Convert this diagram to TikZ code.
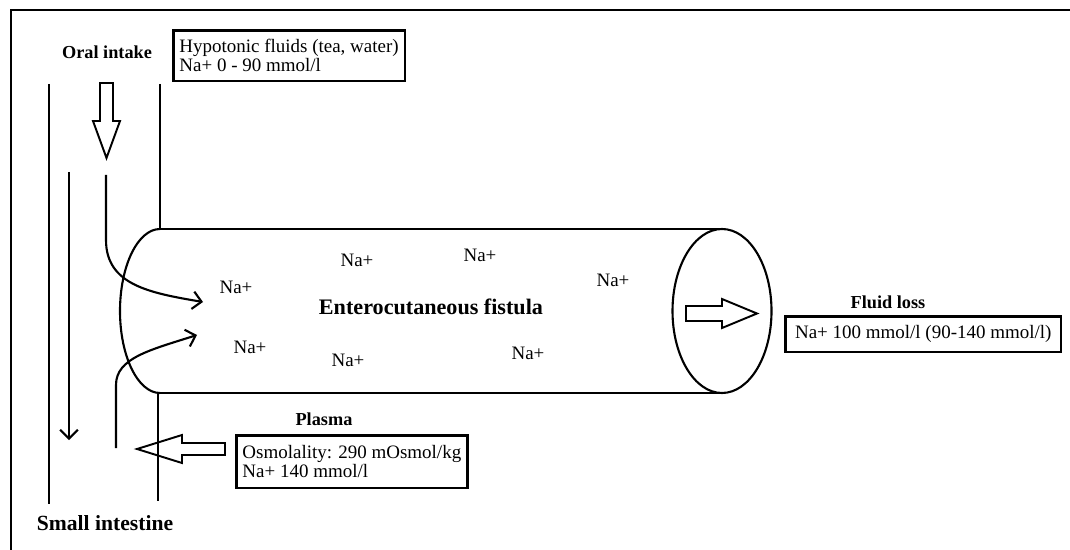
\documentclass[tikz,border=0pt]{standalone}
\usepackage{fontspec}
\setmainfont{Liberation Serif}
\usetikzlibrary{arrows.meta}

\begin{document}
\begin{tikzpicture}[x=0.02cm, y=-0.02cm, >={Straight Barb[length=5pt, width=10pt]},
    wall/.style={line width=1.2pt},
    hollow/.style={line width=1.1pt, line join=miter},
    infobox/.style={draw, line width=1.5pt, inner xsep=3.5pt, inner ysep=0pt, align=left,
        anchor=north west, font=\fontsize{10.8}{9.2}\selectfont},
    title/.style={font=\bfseries\fontsize{10.4}{12}\selectfont},
    ion/.style={font=\fontsize{10.8}{12}\selectfont}]
    \useasboundingbox (0,0) rectangle (1070,550);

    % ==================== KHUNG NGOÀI ====================
    \draw[wall] (11,550) -- (11,10) -- (1070,10);

    % ==================== RUỘT NON (BÊN TRÁI) ====================
    % Thành ruột
    \draw[wall] (49,84) -- (49,504);
    \draw[wall] (160,84) -- (160,229);
    \draw[wall] (158,393) -- (158,501);

    % Mũi tên rỗng: đường uống vào
    \draw[hollow] (100,83) -- (113,83) -- (113,121) -- (120,121) -- (106.5,158)
        -- (93,121) -- (100,121) -- cycle;

    % Dòng chảy xuống trong ruột
    \coordinate (flowtop) at (69,172);
    \coordinate (flowend) at (69,440);
    \draw[wall, ->] (flowtop) -- (flowend);

    % Nhãn
    \node[title] (oral) at (107,52) {Oral intake};
    \node[title, font=\bfseries\fontsize{12.3}{14}\selectfont] (small) at (105,523) {Small intestine};
    \node[infobox, minimum width=108.8pt, minimum height=28.9pt] (hypo) at (172,29)
        {Hypotonic fluids (tea, water)\\Na+ 0 - 90 mmol/l};

    % ==================== ỐNG RÒ ====================
    % Thân ống
    \draw[wall] (160,229) -- (722,229);
    \draw[wall] (158,393) -- (722,393);
    \draw[wall] (160,229) arc (-90:-270:40 and 82);
    \draw[wall] (722,311) ellipse (49.5 and 82);
    \node[title, font=\bfseries\fontsize{12.6}{14}\selectfont] (fistula) at (431,307) {Enterocutaneous fistula};

    % Các ion Na+
    \node[ion] (na1) at (236,287) {Na+};
    \node[ion] (na2) at (357,260) {Na+};
    \node[ion] (na3) at (480,255) {Na+};
    \node[ion] (na4) at (613,280) {Na+};
    \node[ion] (na5) at (250,347) {Na+};
    \node[ion] (na6) at (348,360) {Na+};
    \node[ion] (na7) at (528,353) {Na+};

    % Dòng dịch từ miệng vào ống rò
    \coordinate (oralin) at (106,175);
    \coordinate (oralout) at (203,302);
    \draw[wall, ->] (oralin) -- (106,240) .. controls (106,285) and (150,293) .. (oralout);

    % Dòng dịch từ huyết tương vào ống rò
    \coordinate (plasin) at (116,448);
    \coordinate (plasout) at (197,335);
    \draw[wall, ->] (plasin) -- (116,385) .. controls (116,358) and (150,350) .. (plasout);

    % ==================== HUYẾT TƯƠNG ====================
    \draw[hollow] (225,443) -- (182,443) -- (182,435) -- (137,449) -- (182,463)
        -- (182,455) -- (225,455) -- cycle;
    \node[title] (plasma) at (324,419) {Plasma};
    \node[infobox, minimum width=129.3pt, minimum height=30pt] (osmo) at (235,434)
        {Osmolality: 290 mOsmol/kg\\Na+ 140 mmol/l};

    % ==================== MẤT DỊCH ====================
    \draw[hollow] (686,306) -- (722,306) -- (722,299) -- (757,313.5) -- (722,328)
        -- (722,321) -- (686,321) -- cycle;
    \node[title] (loss) at (888,302) {Fluid loss};
    \node[infobox, minimum width=157pt, minimum height=20.4pt] (fluid) at (784,315)
        {Na+ 100 mmol/l (90-140 mmol/l)};
\end{tikzpicture}
\end{document}
